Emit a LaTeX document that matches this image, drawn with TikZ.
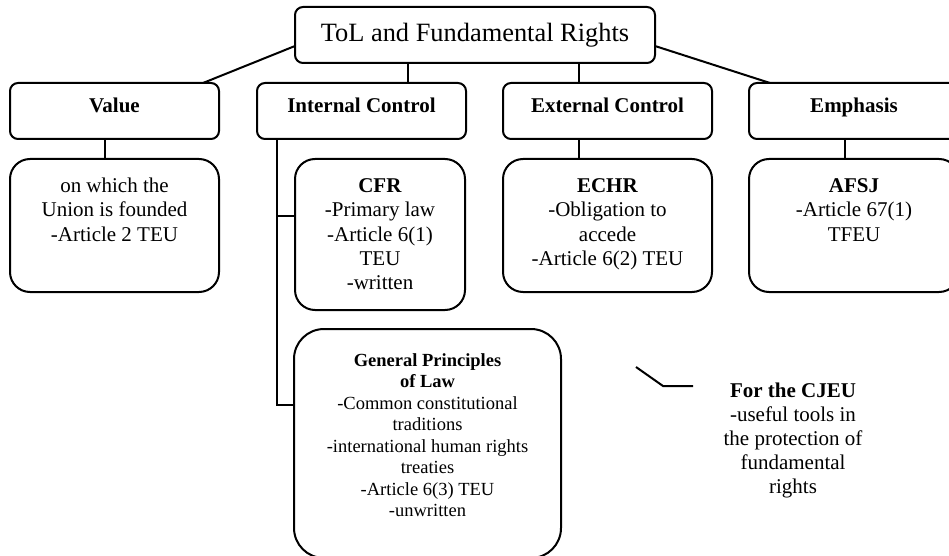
\documentclass[tikz,border=0pt]{standalone}
\usepackage{fontspec}
\setmainfont{Liberation Serif}
\usetikzlibrary{calc}
\newcommand{\mlines}[1]{\begin{tabular}[t]{@{}c@{}}#1\end{tabular}}
\begin{document}
\begin{tikzpicture}[x=1pt,y=-1pt,line width=2pt,
  labbox/.style={draw,rounded corners=8pt,minimum width=209pt,minimum height=56pt,inner sep=0pt,outer sep=0pt,anchor=north west},
  cntbox/.style={draw,rounded corners=20pt,minimum width=209pt,minimum height=133pt,inner sep=0pt,outer sep=0pt,anchor=north west},
  bigtxt/.style={font=\fontsize{21}{24}\selectfont,anchor=base,inner sep=0pt},
  smalltxt/.style={font=\fontsize{18.5}{21.5}\selectfont,anchor=base,inner sep=0pt},
  conn/.style={draw,line width=2pt}]
\useasboundingbox (0,0) rectangle (949,556);
\clip (0,0) rectangle (949,556);
% top
\node[draw,rounded corners=8pt,minimum width=360pt,minimum height=56pt,inner sep=0pt,outer sep=0pt,
  font=\fontsize{26.4}{30}\selectfont] (top) at (475,35) {ToL and Fundamental Rights};
% label boxes
\node[labbox] (value) at (10,83) {};
\node[labbox] (intctl) at (257,83) {};
\node[labbox] (extctl) at (503,83) {};
\node[labbox,minimum width=210pt] (emph) at (749,83) {};
\node[bigtxt,font=\fontsize{21}{24}\selectfont\bfseries] (valuet) at (114.5,113) {Value};
\node[bigtxt,font=\fontsize{21}{24}\selectfont\bfseries] (intctlt) at (361.5,113) {Internal Control};
\node[bigtxt,font=\fontsize{21}{24}\selectfont\bfseries] (extctlt) at (607.5,113) {External Control};
\node[bigtxt,font=\fontsize{21}{24}\selectfont\bfseries] (empht) at (854,113) {Emphasis};
% content boxes
\node[cntbox] (valc) at (10,159) {};
\node[cntbox,minimum width=170pt,minimum height=151pt] (cfr) at (295,159) {};
\node[cntbox] (echr) at (503,159) {};
\node[cntbox,minimum width=210pt] (afsj) at (749,159) {};
\node[cntbox,rounded corners=30pt,minimum width=267pt,minimum height=229pt] (gpl) at (294,329) {};
\node[bigtxt] (valct) at (114.5,193) {\mlines{on which the\\Union is founded\\-Article 2 TEU}};
\node[bigtxt] (cfrt) at (380,193) {\mlines{\textbf{CFR}\\-Primary law\\-Article 6(1)\\TEU\\-written}};
\node[bigtxt] (echrt) at (607.5,193) {\mlines{\textbf{ECHR}\\-Obligation to\\accede\\-Article 6(2) TEU}};
\node[bigtxt] (afsjt) at (854,193) {\mlines{\textbf{AFSJ}\\-Article 67(1)\\TFEU}};
\node[smalltxt] (gplt) at (427.5,366) {\mlines{\textbf{General Principles}\\\textbf{of Law}\\-Common constitutional\\traditions\\-international human rights\\treaties\\-Article 6(3) TEU\\-unwritten}};
\node[bigtxt] (cjeu) at (793,397) {\mlines{\textbf{For the CJEU}\\-useful tools in\\the protection of\\fundamental\\rights}};
% connectors from top
\draw[conn] ($(top.west)+(0,11)$) -- ($(value.north east)+(-16,0)$);
\draw[conn] ($(top.east)+(0,11)$) -- ($(emph.north west)+(21,0)$);
\coordinate (ti) at ($(top.south)+(-67,0)$);
\draw[conn] (ti) -- (ti |- intctl.north);
\coordinate (te) at ($(top.south)+(104,0)$);
\draw[conn] (te) -- (te |- extctl.north);
% label to content
\coordinate (vc) at ($(value.south)+(-9.5,0)$);
\draw[conn] (vc) -- (vc |- valc.north);
\coordinate (ec) at ($(extctl.south)+(-28.5,0)$);
\draw[conn] (ec) -- (ec |- echr.north);
\coordinate (ac) at ($(emph.south)+(-9,0)$);
\draw[conn] (ac) -- (ac |- afsj.north);
% internal control tree
\coordinate (trunk) at ($(intctl.south west)+(20,0)$);
\coordinate (gb) at ($(gpl.west)+(0,-39)$);
\draw[conn] (trunk) |- (gb);
\coordinate (cb) at ($(cfr.west)+(0,-18.5)$);
\draw[conn] (cb) -- (cb -| trunk);
% callout stub
\coordinate (s1) at (636,367);
\coordinate (s2) at (663,386);
\coordinate (s3) at (693,386);
\draw[conn] (s1) -- (s2) -- (s3);
\end{tikzpicture}
\end{document}
